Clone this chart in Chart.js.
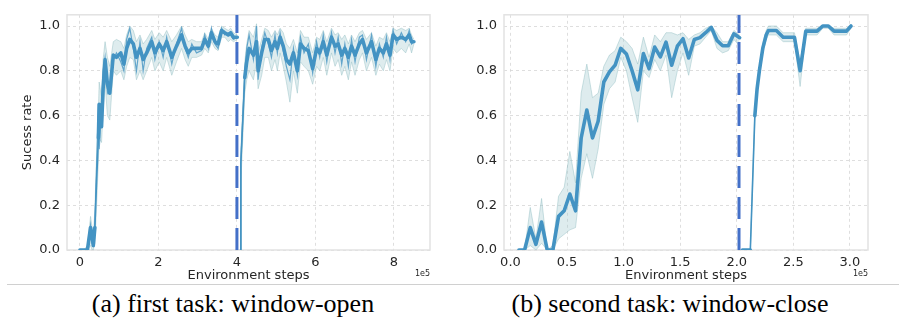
<!DOCTYPE html>
<html>
<head>
<meta charset="utf-8">
<script src="https://cdn.jsdelivr.net/npm/chart.js@4.4.1/dist/chart.umd.min.js"></script>
<style>
html, body { margin: 0; padding: 0; background: #fff; }
#wrap { position: relative; width: 906px; height: 320px; overflow: hidden; }
.box { position: absolute; top: 0; width: 450px; height: 285px; }
.cap { position: absolute; top: 289px; font-family: "Liberation Serif", "Times New Roman", serif; font-size: 26px; line-height: 30px; color: #000; text-align: center; white-space: nowrap; }
#rule { position: absolute; left: 7px; top: 284px; width: 892px; height: 1px; background: #d0d0d0; }
</style>
</head>
<body>
<div id="wrap">
  <div class="box" style="left:0"><canvas id="c1" width="450" height="285"></canvas></div>
  <div class="box" style="left:450px"><canvas id="c2" width="450" height="285"></canvas></div>
  <div id="rule"></div>
  <div class="cap" style="left:0;width:466px">(a) first task: window-open</div>
  <div class="cap" style="left:450px;width:440px">(b) second task: window-close</div>
</div>
<script>
// ---- data (x in units of 1e5 environment steps) ----
const yTicks = [0, 0.2, 0.4, 0.6, 0.8, 1.0];
const leftXTicks = [0, 2, 4, 6, 8];
const rightXTicks = [0, 0.5, 1.0, 1.5, 2.0, 2.5, 3.0];
const leftSwitch = 4.0;
const rightSwitch = 2.02;

// (a) first task, before switch
const a1X    = [0, 0.1, 0.19, 0.27, 0.31, 0.34, 0.38, 0.42, 0.47, 0.49, 0.55, 0.59, 0.64, 0.70, 0.76, 0.85, 0.93, 1.04, 1.12, 1.19, 1.27, 1.36, 1.44, 1.53, 1.61, 1.70, 1.83, 1.91, 2.02, 2.12, 2.21, 2.34, 2.46, 2.59, 2.68, 2.76, 2.85, 2.97, 3.10, 3.18, 3.27, 3.35, 3.44, 3.52, 3.61, 3.69, 3.78, 3.84, 3.91, 4.01];
const a1Mean = [0, 0, 0, 0.10, 0.06, 0.02, 0.10, 0.29, 0.50, 0.65, 0.55, 0.72, 0.85, 0.74, 0.70, 0.87, 0.86, 0.88, 0.83, 0.90, 0.94, 0.92, 0.86, 0.90, 0.85, 0.88, 0.93, 0.88, 0.92, 0.89, 0.93, 0.86, 0.91, 0.96, 0.91, 0.88, 0.90, 0.90, 0.90, 0.94, 0.91, 0.97, 0.93, 0.92, 0.98, 0.97, 0.96, 0.97, 0.95, 0.95];
const a1Raw  = [0, 0, 0, 0.11, 0.03, 0.02, 0.12, 0.35, 0.65, 0.45, 0.62, 0.80, 0.86, 0.70, 0.72, 0.85, 0.88, 0.84, 0.80, 0.94, 0.99, 0.90, 0.80, 0.93, 0.80, 0.90, 0.95, 0.85, 0.93, 0.86, 0.95, 0.83, 0.92, 0.99, 0.90, 0.86, 0.92, 0.88, 0.89, 0.96, 0.90, 0.99, 0.92, 0.90, 0.99, 0.96, 0.97, 0.96, 0.94, 0.95];
const a1Lo   = [0, 0, 0, 0.02, 0, 0, 0.03, 0.18, 0.40, 0.50, 0.48, 0.62, 0.75, 0.60, 0.58, 0.80, 0.78, 0.80, 0.76, 0.82, 0.86, 0.85, 0.76, 0.80, 0.76, 0.80, 0.86, 0.80, 0.84, 0.80, 0.86, 0.78, 0.84, 0.90, 0.85, 0.82, 0.86, 0.86, 0.87, 0.90, 0.88, 0.93, 0.90, 0.89, 0.95, 0.95, 0.93, 0.94, 0.93, 0.94];
const a1Hi   = [0, 0, 0.02, 0.15, 0.10, 0.06, 0.18, 0.40, 0.62, 0.75, 0.68, 0.85, 0.93, 0.86, 0.82, 0.93, 0.94, 0.93, 0.90, 0.96, 1.0, 0.98, 0.93, 0.96, 0.92, 0.94, 0.98, 0.94, 0.97, 0.95, 0.98, 0.93, 0.96, 1.0, 0.96, 0.93, 0.94, 0.93, 0.93, 0.97, 0.94, 0.99, 0.96, 0.95, 1.0, 0.99, 0.98, 0.99, 0.97, 0.96];

// (a) after switch
const a2X    = [4.09, 4.10, 4.20, 4.25, 4.31, 4.42, 4.50, 4.54, 4.63, 4.71, 4.80, 4.88, 4.97, 5.03, 5.10, 5.18, 5.26, 5.35, 5.44, 5.54, 5.62, 5.71, 5.82, 5.93, 6.03, 6.11, 6.20, 6.29, 6.41, 6.50, 6.58, 6.67, 6.75, 6.84, 6.92, 7.01, 7.12, 7.20, 7.30, 7.43, 7.54, 7.63, 7.73, 7.81, 7.90, 7.98, 8.07, 8.19, 8.30, 8.39, 8.45, 8.51];
const a2Mean = [0, 0.39, 0.77, 0.84, 0.90, 0.87, 0.93, 0.80, 0.88, 0.94, 0.94, 0.89, 0.93, 0.90, 0.95, 0.91, 0.85, 0.83, 0.88, 0.80, 0.92, 0.90, 0.89, 0.81, 0.90, 0.88, 0.93, 0.87, 0.95, 0.91, 0.92, 0.87, 0.90, 0.86, 0.91, 0.87, 0.92, 0.94, 0.88, 0.93, 0.85, 0.90, 0.88, 0.92, 0.87, 0.96, 0.94, 0.95, 0.94, 0.96, 0.93, 0.93];
const a2Raw  = [0, 0.39, 0.80, 0.90, 0.96, 0.85, 1.0, 0.76, 0.90, 0.97, 0.92, 0.86, 0.96, 0.88, 0.97, 0.89, 0.82, 0.76, 0.90, 0.78, 0.95, 0.88, 0.92, 0.79, 0.93, 0.86, 0.96, 0.84, 0.97, 0.88, 0.95, 0.83, 0.92, 0.82, 0.94, 0.84, 0.95, 0.96, 0.85, 0.96, 0.82, 0.92, 0.86, 0.95, 0.85, 0.98, 0.92, 0.97, 0.93, 0.98, 0.92, 0.93];
const a2Lo   = [0, 0.30, 0.70, 0.76, 0.80, 0.76, 0.84, 0.72, 0.78, 0.86, 0.86, 0.80, 0.85, 0.80, 0.88, 0.82, 0.75, 0.66, 0.80, 0.70, 0.84, 0.82, 0.80, 0.74, 0.82, 0.80, 0.86, 0.78, 0.88, 0.82, 0.85, 0.78, 0.82, 0.76, 0.84, 0.78, 0.85, 0.88, 0.80, 0.86, 0.78, 0.83, 0.80, 0.85, 0.80, 0.90, 0.88, 0.90, 0.88, 0.92, 0.88, 0.92];
const a2Hi   = [0, 0.45, 0.84, 0.92, 0.98, 0.95, 1.01, 0.88, 0.94, 0.99, 0.98, 0.95, 0.98, 0.96, 0.99, 0.97, 0.92, 0.90, 0.94, 0.88, 0.98, 0.95, 0.95, 0.88, 0.95, 0.94, 0.98, 0.93, 0.99, 0.96, 0.97, 0.94, 0.96, 0.92, 0.96, 0.93, 0.97, 0.98, 0.94, 0.97, 0.91, 0.95, 0.94, 0.97, 0.93, 0.99, 0.98, 0.99, 0.98, 0.99, 0.96, 0.94];

// (b) second task, before switch
const b1X    = [0.075, 0.125, 0.175, 0.225, 0.275, 0.325, 0.375, 0.425, 0.475, 0.525, 0.575, 0.625, 0.675, 0.725, 0.775, 0.825, 0.875, 0.925, 0.975, 1.025, 1.075, 1.125, 1.175, 1.225, 1.275, 1.325, 1.375, 1.425, 1.475, 1.525, 1.575, 1.625, 1.675, 1.725, 1.775, 1.825, 1.875, 1.925, 1.975, 2.025];
const b1Mean = [0, 0, 0.10, 0.025, 0.125, 0, 0, 0.15, 0.175, 0.25, 0.175, 0.50, 0.625, 0.50, 0.575, 0.75, 0.795, 0.825, 0.90, 0.875, 0.80, 0.715, 0.877, 0.81, 0.906, 0.862, 0.928, 0.825, 0.91, 0.943, 0.857, 0.94, 0.948, 0.97, 0.994, 0.936, 0.912, 0.912, 0.965, 0.948];
const b1Lo   = [0, 0, 0.02, 0, 0.03, 0, 0, 0.05, 0.07, 0.09, 0.10, 0.32, 0.43, 0.32, 0.45, 0.65, 0.72, 0.75, 0.86, 0.80, 0.68, 0.57, 0.80, 0.77, 0.85, 0.80, 0.87, 0.68, 0.80, 0.88, 0.78, 0.91, 0.92, 0.95, 0.98, 0.90, 0.88, 0.89, 0.94, 0.91];
const b1Hi   = [0, 0, 0.19, 0.05, 0.23, 0, 0.02, 0.24, 0.28, 0.44, 0.30, 0.70, 0.83, 0.68, 0.70, 0.82, 0.87, 0.89, 0.95, 0.93, 0.90, 0.83, 0.95, 0.86, 0.96, 0.93, 0.97, 0.97, 0.96, 0.97, 0.94, 0.96, 0.97, 0.99, 1.0, 0.97, 0.93, 0.93, 0.98, 0.96];

// (b) after switch
const b2X    = [2.05, 2.12, 2.14, 2.16, 2.18, 2.20, 2.23, 2.26, 2.28, 2.35, 2.41, 2.51, 2.56, 2.61, 2.71, 2.76, 2.81, 2.86, 2.97, 3.01];
const b2Mean = [0, 0, 0.30, 0.60, 0.72, 0.80, 0.90, 0.96, 0.98, 0.98, 0.95, 0.95, 0.80, 0.977, 0.977, 1.0, 1.0, 0.977, 0.977, 1.0];
const b2Lo   = [0, 0, 0.28, 0.58, 0.70, 0.78, 0.88, 0.94, 0.96, 0.96, 0.93, 0.93, 0.73, 0.96, 0.96, 0.99, 0.99, 0.96, 0.96, 0.99];
const b2Hi   = [0, 0, 0.32, 0.62, 0.74, 0.82, 0.92, 0.98, 1.0, 1.0, 0.97, 0.97, 0.84, 0.99, 0.99, 1.0, 1.0, 0.99, 0.99, 1.0];

// ---- styling ----
const BLUE = '#4393c3';
const BAND = 'rgba(160,200,205,0.35)';
const BAND_EDGE = 'rgba(140,185,190,0.55)';
const SWITCH = '#4470c8';
const FONT = "'DejaVu Sans', sans-serif";
const TXT = '#262626';

const pts = (xs, ys) => xs.map((x, i) => ({ x, y: ys[i] }));
// near-vertical jumps render thin like the reference
const thinIfSteep = c => {
  const dy = Math.abs(c.p1.y - c.p0.y), dx = Math.abs(c.p1.x - c.p0.x);
  return (dy > 40 && dy > 15 * dx) ? 1.6 : 3.6;
};

function meanLine(xs, ys) {
  return { data: pts(xs, ys), borderColor: BLUE, borderWidth: 3.6, order: 1,
    segment: { borderWidth: thinIfSteep }, borderJoinStyle: 'round', borderCapStyle: 'round' };
}
function rawLine(xs, ys) {
  return { data: pts(xs, ys), borderColor: 'rgba(67,147,195,0.8)', borderWidth: 1.2, order: 2 };
}
function band(xs, lo, hi) {
  return [
    { data: pts(xs, hi), borderColor: BAND_EDGE, borderWidth: 0.8, backgroundColor: BAND, fill: '+1', order: 3 },
    { data: pts(xs, lo), borderColor: BAND_EDGE, borderWidth: 0.8, fill: false, order: 3 }
  ];
}
function switchLine(x) {
  return { data: [{ x, y: 0 }, { x, y: 1.05 }], borderColor: SWITCH, borderWidth: 3,
    borderDash: [22, 9], order: 0 };
}

const framePlugin = {
  id: 'frame',
  beforeDatasetsDraw(chart) {
    const { ctx, chartArea: a } = chart;
    ctx.save();
    ctx.strokeStyle = '#e2e2e2';
    ctx.lineWidth = 1.5;
    ctx.strokeRect(a.left, a.top, a.right - a.left, a.bottom - a.top);
    ctx.restore();
  },
  afterDraw(chart) {
    const { ctx, chartArea: a } = chart;
    ctx.save();
    ctx.fillStyle = TXT;
    ctx.font = '8px ' + FONT;
    ctx.textAlign = 'right';
    ctx.textBaseline = 'middle';
    ctx.fillText('1e5', a.right, 274);
    ctx.restore();
  }
};

function makeChart(id, datasets, o) {
  return new Chart(document.getElementById(id), {
    type: 'line',
    data: { datasets },
    plugins: [framePlugin],
    options: {
      responsive: false,
      animation: false,
      events: [],
      layout: { padding: { top: 8, right: o.padRight, left: 0, bottom: 0 } },
      elements: { point: { radius: 0 }, line: { tension: 0 } },
      plugins: { legend: { display: false }, tooltip: { enabled: false } },
      scales: {
        x: {
          type: 'linear', min: o.xMin, max: o.xMax,
          afterBuildTicks: s => { s.ticks = o.xTicks.map(v => ({ value: v })); },
          afterFit: s => { s.height = 35; },
          grid: { color: '#d6d6d6', lineWidth: 0.8, drawTicks: false },
          border: { display: false, dash: [3, 3] },
          ticks: { color: TXT, padding: 5, font: { family: FONT, size: 13 }, maxRotation: 0,
                   callback: o.xFmt },
          title: { display: true, text: 'Environment steps', color: TXT,
                   font: { family: FONT, size: 13 }, padding: { top: 0, bottom: 2 } }
        },
        y: {
          type: 'linear', min: 0, max: 1.05,
          afterBuildTicks: s => { s.ticks = yTicks.map(v => ({ value: v })); },
          afterFit: s => { s.width = o.yWidth; },
          grid: { color: '#d6d6d6', lineWidth: 0.8, drawTicks: false },
          border: { display: false, dash: [3, 3] },
          ticks: { color: TXT, padding: 7, font: { family: FONT, size: 13 },
                   callback: v => Number(v).toFixed(1) },
          title: { display: o.yTitle, text: 'Sucess rate', color: TXT,
                   font: { family: FONT, size: 13 }, padding: { top: 20, bottom: 0 } }
        }
      }
    }
  });
}

makeChart('c1', [
  switchLine(leftSwitch),
  meanLine(a1X, a1Mean), meanLine(a2X, a2Mean),
  rawLine(a1X, a1Raw), rawLine(a2X, a2Raw),
  ...band(a1X, a1Lo, a1Hi), ...band(a2X, a2Lo, a2Hi)
], { xMin: -0.33, xMax: 8.92, xTicks: leftXTicks, xFmt: v => String(v),
     yWidth: 67, padRight: 20, yTitle: true });

makeChart('c2', [
  switchLine(rightSwitch),
  meanLine(b1X, b1Mean), meanLine(b2X, b2Mean),
  ...band(b1X, b1Lo, b1Hi), ...band(b2X, b2Lo, b2Hi)
], { xMin: -0.057, xMax: 3.16, xTicks: rightXTicks, xFmt: v => Number(v).toFixed(1),
     yWidth: 54, padRight: 32, yTitle: false });
</script>
</body>
</html>
